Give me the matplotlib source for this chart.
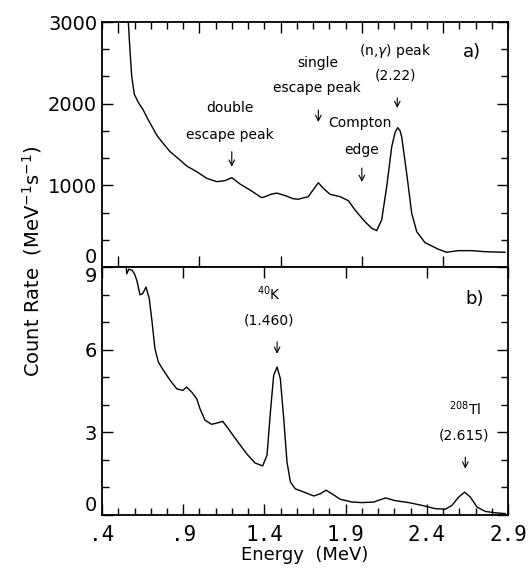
import matplotlib
matplotlib.use('Agg')
import matplotlib.pyplot as plt
import matplotlib.ticker as ticker

# panel a) : spectrum with (n,gamma) source
top_energy = [0.545, 0.562, 0.572, 0.583, 0.599, 0.625, 0.654, 0.685, 0.74, 0.78, 0.819,
              0.88, 0.921, 0.983, 1.045, 1.106, 1.157, 1.199, 1.25, 1.311, 1.383,
              1.404, 1.44, 1.476, 1.527, 1.578, 1.609, 1.67, 1.707, 1.732, 1.763,
              1.804, 1.866, 1.917, 1.958, 2.019, 2.061, 2.091, 2.122, 2.153, 2.184,
              2.205, 2.221, 2.235, 2.245, 2.276, 2.307, 2.338, 2.389, 2.471, 2.522,
              2.594, 2.676, 2.758, 2.881]
top_rate = [3400, 3000, 2657, 2330, 2115, 2010, 1922, 1800, 1605, 1505, 1412,
            1310, 1237, 1167, 1086, 1045, 1057, 1094, 1016, 943, 849,
            861, 890, 905, 875, 835, 830, 861, 963, 1032, 963,
            890, 861, 812, 698, 555, 474, 445, 576, 983, 1473,
            1650, 1706, 1670, 1596, 1147, 657, 432, 298, 217, 180,
            200, 200, 187, 180]

# panel b) : background spectrum
bot_energy = [0.545, 0.552, 0.565, 0.585, 0.6, 0.614, 0.634, 0.65, 0.671, 0.691, 0.706,
              0.726, 0.747, 0.778, 0.819, 0.86, 0.897, 0.921, 0.952, 0.983, 1.003,
              1.034, 1.075, 1.116, 1.143, 1.178, 1.229, 1.291, 1.342, 1.389, 1.416,
              1.437, 1.457, 1.478, 1.498, 1.519, 1.539, 1.56, 1.59, 1.631, 1.704,
              1.744, 1.779, 1.816, 1.867, 1.94, 2.0, 2.073, 2.145, 2.206, 2.289,
              2.37, 2.452, 2.514, 2.555, 2.596, 2.633, 2.668, 2.709, 2.76, 2.822, 2.883]
bot_rate = [9.4, 8.75, 8.92, 8.88, 8.75, 8.52, 7.99, 8.03, 8.27, 7.85, 7.12,
            6.03, 5.55, 5.25, 4.89, 4.58, 4.52, 4.64, 4.46, 4.22, 3.86,
            3.44, 3.29, 3.35, 3.40, 3.13, 2.71, 2.22, 1.89, 1.78, 2.17,
            3.74, 5.07, 5.37, 4.95, 3.49, 1.92, 1.20, 0.95, 0.86, 0.69,
            0.77, 0.90, 0.77, 0.57, 0.47, 0.45, 0.47, 0.62, 0.52, 0.45,
            0.35, 0.23, 0.21, 0.35, 0.65, 0.83, 0.65, 0.29, 0.13, 0.08, 0.05]

x_ticks = [0.4, 0.9, 1.4, 1.9, 2.4, 2.9]
x_tick_labels = ['.4', '.9', '1.4', '1.9', '2.4', '2.9']
top_yticks = [0, 1000, 2000, 3000]
bot_yticks = [0, 3, 6, 9]

fig = plt.figure(figsize=(5.30, 5.69), dpi=100)
ax1 = fig.add_axes([0.1925, 0.5308, 0.766, 0.4305])
ax2 = fig.add_axes([0.1925, 0.0949, 0.766, 0.4359])

txt = dict(ha='center', va='center', fontsize=10)
arrow = dict(arrowstyle='->', lw=0.8, color='black', shrinkA=0, shrinkB=0)


def style(ax, ymax, ymajor, yminor):
    ax.set_xlim(0.4, 2.9)
    ax.set_ylim(0, ymax)
    ax.xaxis.set_major_locator(ticker.MultipleLocator(0.5))
    ax.xaxis.set_minor_locator(ticker.MultipleLocator(0.1))
    ax.yaxis.set_major_locator(ticker.MultipleLocator(ymajor))
    ax.yaxis.set_minor_locator(ticker.MultipleLocator(yminor))
    ax.tick_params(which='both', direction='in', left=True, right=True, width=1.0)
    ax.tick_params(which='major', length=8, labelsize=14)
    ax.tick_params(which='minor', length=5)
    for s in ax.spines.values():
        s.set_linewidth(1.3)


# top panel
ax1.plot(top_energy, top_rate, color='black', lw=1.0)
style(ax1, 3000, 1000, 1000 / 3)
ax1.tick_params(which='major', top=True, bottom=True, labelbottom=False)
ax1.tick_params(which='minor', top=True, bottom=False)
ax1.set_yticks(top_yticks)
ax1.yaxis.get_major_ticks()[0].label1.set_verticalalignment('bottom')

ax1.text(1.19, 1947, 'double', **txt)
ax1.text(1.19, 1616, 'escape peak', **txt)
ax1.annotate('', xy=(1.199, 1228), xytext=(1.199, 1412), arrowprops=arrow)
ax1.text(1.73, 2497, 'single', **txt)
ax1.text(1.72, 2190, 'escape peak', **txt)
ax1.annotate('', xy=(1.732, 1775), xytext=(1.732, 1922), arrowprops=arrow)
ax1.text(1.99, 1763, 'Compton', **txt)
ax1.text(2.0, 1432, 'edge', **txt)
ax1.annotate('', xy=(2.0, 1041), xytext=(2.0, 1212), arrowprops=arrow)
ax1.text(2.208, 2649, r'(n,$\gamma$) peak', **txt)
ax1.text(2.21, 2339, '(2.22)', **txt)
ax1.annotate('', xy=(2.218, 1947), xytext=(2.218, 2069), arrowprops=arrow)
ax1.text(2.676, 2637, 'a)', ha='center', va='center', fontsize=13)

# bottom panel
ax2.plot(bot_energy, bot_rate, color='black', lw=1.0)
style(ax2, 9, 3, 1)
ax2.tick_params(which='major', top=True, bottom=True)
ax2.tick_params(which='minor', top=False, bottom=True)
ax2.set_yticks(bot_yticks)
ax2.yaxis.get_major_ticks()[0].label1.set_verticalalignment('bottom')
ax2.yaxis.get_major_ticks()[-1].label1.set_verticalalignment('top')
ax2.set_xticks(x_ticks)
ax2.set_xticklabels(x_tick_labels, fontfamily='DejaVu Sans Mono', fontsize=15)
ax2.tick_params(axis='x', which='major', pad=7)

ax2.text(1.428, 8.03, r'$^{40}$K', **txt)
ax2.text(1.428, 7.06, '(1.460)', **txt)
ax2.annotate('', xy=(1.478, 5.85), xytext=(1.478, 6.28), arrowprops=arrow)
ax2.text(2.637, 3.86, r'$^{208}$Tl', **txt)
ax2.text(2.632, 2.87, '(2.615)', **txt)
ax2.annotate('', xy=(2.637, 1.68), xytext=(2.637, 2.1), arrowprops=arrow)
ax2.text(2.697, 7.85, 'b)', ha='center', va='center', fontsize=13)

ax2.set_xlabel('Energy  (MeV)', fontsize=13, labelpad=1)
fig.text(0.06, 0.54, r'Count Rate  (MeV$^{-1}$s$^{-1}$)', rotation=90,
         ha='center', va='center', fontsize=14)

fig.savefig('out.png', dpi=100)
